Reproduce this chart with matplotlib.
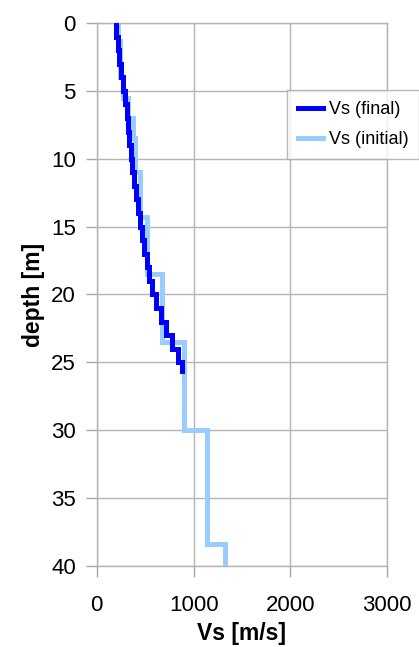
import matplotlib
matplotlib.use("Agg")
import matplotlib.pyplot as plt

plt.rcParams['font.family'] = ['Liberation Sans', 'DejaVu Sans']

# Final Vs profile (layer tops/bottoms in m, Vs in m/s)
final_depth_top = [0, 1, 2, 3, 4, 5, 6, 7, 8, 9, 10, 11, 12, 13, 14, 15, 16, 17,
                   18, 19, 20, 21, 22, 23, 24, 25]
final_depth_bot = [1, 2, 3, 4, 5, 6, 7, 8, 9, 10, 11, 12, 13, 14, 15, 16, 17, 18,
                   19, 20, 21, 22, 23, 24, 25, 25.6]
final_vs = [200, 215, 235, 255, 275, 295, 310, 320, 335, 350, 365, 385, 405, 425,
            450, 470, 490, 515, 540, 575, 615, 660, 720, 775, 835, 885]

# Initial Vs profile
init_depth_top = [0, 1.3, 4.0, 5.5, 7.0, 8.5, 11.0, 14.3, 18.5, 23.5, 30.0, 38.4]
init_depth_bot = [1.3, 4.0, 5.5, 7.0, 8.5, 11.0, 14.3, 18.5, 23.5, 30.0, 38.4, 40.0]
init_vs = [215, 245, 275, 320, 370, 400, 445, 515, 670, 905, 1140, 1320]

x_ticks = [0, 1000, 2000, 3000]
y_ticks = [0, 5, 10, 15, 20, 25, 30, 35, 40]


def step_xy(tops, bots, vals):
    xs, ys = [], []
    for t, b, v in zip(tops, bots, vals):
        xs += [v, v]
        ys += [t, b]
    return xs, ys


fig = plt.figure(figsize=(4.19, 6.47), dpi=100)
ax = fig.add_axes([0.2308, 0.1252, 0.9243 - 0.2308, 0.9645 - 0.1252])

xi, yi = step_xy(init_depth_top, init_depth_bot, init_vs)
xf, yf = step_xy(final_depth_top, final_depth_bot, final_vs)
l_init, = ax.plot(xi, yi, color='#99CCFF', lw=3.6, solid_joinstyle='miter',
                  zorder=3, label='Vs (initial)')
l_fin, = ax.plot(xf, yf, color='#0000FF', lw=3.6, solid_joinstyle='miter',
                 zorder=4, label='Vs (final)')

ax.set_xlim(0, 3000)
ax.set_ylim(40, 0)
ax.set_xticks(x_ticks)
ax.set_yticks(y_ticks)
ax.grid(True, color='#B4B4B4', lw=1.0)
ax.set_axisbelow(True)
for s in ax.spines.values():
    s.set_color('#B4B4B4')
    s.set_linewidth(1.0)
ax.tick_params(axis='both', colors='#A8A8A8', length=8, width=1.0,
               labelcolor='black', labelsize=16, direction='out')
ax.tick_params(axis='x', pad=13)
ax.tick_params(axis='y', pad=7)

ax.set_xlabel('Vs [m/s]', fontsize=16.5, fontweight='bold', labelpad=4)
ax.set_ylabel('depth [m]', fontsize=16.5, fontweight='bold', labelpad=4)

leg = fig.legend(handles=[l_fin, l_init], loc='upper left',
                 bbox_to_anchor=(287 / 419, 1 - 90 / 647), borderaxespad=0,
                 fontsize=13, frameon=True, fancybox=False, edgecolor='#A8A8A8',
                 handlelength=1.4, handletextpad=0.3, borderpad=0.6,
                 labelspacing=0.75)
leg.get_frame().set_linewidth(1.0)

fig.savefig('out.png', dpi=100)
